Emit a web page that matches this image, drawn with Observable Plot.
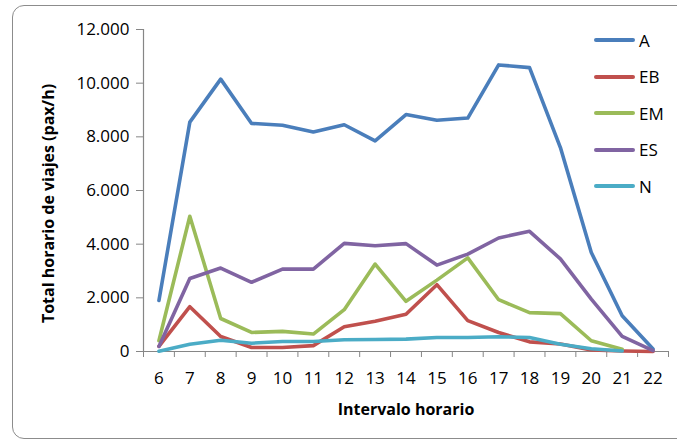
<!DOCTYPE html>
<html>
<head>
<meta charset="utf-8">
<script src="https://cdn.jsdelivr.net/npm/d3@7"></script>
<script src="https://cdn.jsdelivr.net/npm/@observablehq/plot@0.6"></script>
<style>
  html, body { margin: 0; padding: 0; background: #fff; overflow: hidden; }
  #wrap { position: relative; width: 677px; height: 443px; }
  #frame {
    position: absolute; left: 12px; top: 5px; width: 680px; height: 434px;
    border: 1.5px solid #8c8c8c; border-radius: 12px; box-sizing: border-box;
  }
  #chart { position: absolute; left: 0; top: 0; }
  #legend {
    position: absolute; left: 594px; top: 22px;
    font-family: "Open Sans", sans-serif; font-size: 17px; color: #000;
  }
  .item { display: flex; align-items: center; height: 36.5px; }
  .swatch { width: 41px; height: 4px; border-radius: 2px; margin-right: 4px; }
</style>
</head>
<body>
<div id="wrap">
  <div id="frame"></div>
  <div id="chart"></div>
  <div id="legend"></div>
</div>
<script>
// Hourly intervals (x) and trips per hour for each series
const hours = [6, 7, 8, 9, 10, 11, 12, 13, 14, 15, 16, 17, 18, 19, 20, 21, 22];
const seriesNames = ["A", "EB", "EM", "ES", "N"];
const seriesColors = ["#4a7ebb", "#c0504d", "#9bbb59", "#8064a2", "#4bacc6"];
const A  = [1900, 8550, 10150, 8500, 8430, 8180, 8450, 7850, 8830, 8620, 8700, 10680, 10580, 7600, 3690, 1330, 90];
const EB = [190, 1670, 560, 150, 150, 220, 920, 1130, 1390, 2490, 1150, 710, 360, 280, 60, 20, 0];
const EM = [400, 5040, 1230, 710, 750, 650, 1560, 3260, 1870, 2660, 3490, 1930, 1450, 1410, 400, 80, null];
const ES = [190, 2720, 3110, 2580, 3070, 3070, 4030, 3940, 4020, 3220, 3630, 4230, 4480, 3450, 1950, 560, 30];
const N  = [10, 270, 420, 310, 370, 370, 440, 450, 460, 520, 520, 550, 520, 270, 100, 20, null];
const yTicks = [0, 2000, 4000, 6000, 8000, 10000, 12000];

const valuesBySeries = [A, EB, EM, ES, N];
const rows = seriesNames.flatMap((name, i) =>
  hours.map((h, j) => ({ series: name, hour: h, value: valuesBySeries[i][j] }))
);

const axisColor = "#868686";
const fmt = d => d3.format(",")(d).replace(/,/g, ".");

const chart = Plot.plot({
  width: 677,
  height: 443,
  marginLeft: 143,
  marginRight: 9,
  marginTop: 29,
  marginBottom: 92,
  style: { fontFamily: "Open Sans, sans-serif", fontSize: "17px", color: "#000", background: "transparent" },
  x: { type: "linear", domain: [5.5, 22.5] },
  y: { domain: [0, 12000] },
  color: { domain: seriesNames, range: seriesColors },
  marks: [
    // y axis: ticks and labels
    Plot.axisY({ ticks: yTicks, tickFormat: fmt, tickSize: 7, tickPadding: 7, stroke: axisColor, label: null }),
    Plot.ruleX([5.5], { stroke: axisColor, strokeWidth: 1.2 }),
    // x axis: tick marks between categories, labels at centers
    Plot.axisX({ ticks: d3.range(5.5, 23, 1), tickFormat: () => "", tickSize: 6, stroke: axisColor, label: null }),
    Plot.axisX({ ticks: hours, tickFormat: d => d, tickSize: 0, tickPadding: 20, label: null }),
    Plot.ruleY([0], { stroke: axisColor, strokeWidth: 1.2 }),
    // axis titles
    Plot.text(["Intervalo horario"], {
      frameAnchor: "bottom", dy: 63, fontWeight: "bold", fontSize: 16
    }),
    Plot.text(["Total horario de viajes (pax/h)"], {
      frameAnchor: "left", textAnchor: "middle", dx: -95, dy: 13, rotate: -90, fontWeight: "bold", fontSize: 16
    }),
    // series lines
    Plot.line(rows, {
      x: "hour", y: "value", z: "series", stroke: "series",
      strokeWidth: 3.6, strokeLinejoin: "round", strokeLinecap: "round"
    })
  ]
});
document.getElementById("chart").appendChild(chart);

// Legend
const legend = document.getElementById("legend");
seriesNames.forEach((name, i) => {
  const item = document.createElement("div");
  item.className = "item";
  const sw = document.createElement("div");
  sw.className = "swatch";
  sw.style.background = seriesColors[i];
  const label = document.createElement("span");
  label.textContent = name;
  item.appendChild(sw);
  item.appendChild(label);
  legend.appendChild(item);
});
</script>
</body>
</html>
